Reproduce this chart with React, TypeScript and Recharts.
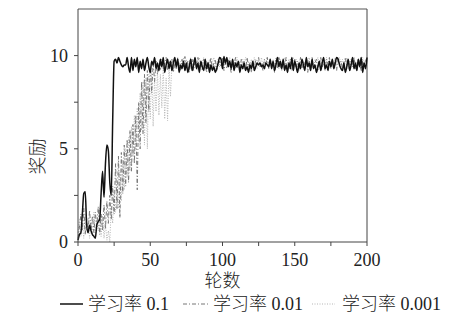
import React from 'react';
import { LineChart, Line, XAxis, YAxis, Legend, ReferenceLine, Label } from 'recharts';

const lr01: number[] = [
  0.1, 0.4, 0.5, 1.5, 2.6, 2.7, 0.9, 0.5, 0.9, 0.6,
  0.4, 0.3, 0.2, 0.9, 1.1, 1.2, 2.6, 3.8, 2.4, 4.2,
  5.2, 4.9, 3.2, 2.5, 6.5, 9.7, 9.8, 9.6, 9.9, 9.7,
  9.5, 9.4, 9.5, 9.5, 9.9, 9.4, 9.1, 9.9, 9.2, 9.8,
  9.4, 9.9, 9.1, 9.7, 9.3, 9.8, 9.2, 9.6, 9.9, 9.4,
  9.1, 9.7, 9.5, 9.9, 9.3, 9.6, 9.2, 9.8, 9.4, 9.9,
  9.1, 9.5, 9.8, 9.3, 9.7, 9.2, 9.6, 9.9, 9.4, 9.8,
  9.1, 9.5, 9.3, 9.7, 9.2, 9.6, 9.1, 9.4, 9.8, 9.2,
  9.5, 9.9, 9.3, 9.6, 9.1, 9.7, 9.4, 9.2, 9.8, 9.3,
  9.6, 9.1, 9.5, 9.2, 9.4, 9.1, 9.3, 9.6, 9.9, 9.8,
  9.3, 9.95, 9.6, 9.9, 9.4, 9.7, 9.3, 9.8, 9.2, 9.6,
  9.4, 9.7, 9.1, 9.5, 9.3, 9.6, 9.2, 9.4, 9.1, 9.5,
  9.3, 9.7, 9.2, 9.4, 9.6, 9.5, 9.6, 9.4, 9.5, 9.3,
  9.6, 9.5, 9.4, 9.8, 9.3, 9.7, 9.2, 9.5, 9.9, 9.4,
  9.7, 9.3, 9.8, 9.2, 9.5, 9.1, 9.6, 9.3, 9.9, 9.2,
  9.7, 9.4, 9.1, 9.6, 9.3, 9.8, 9.5, 9.2, 9.9, 9.4,
  9.6, 9.2, 9.8, 9.3, 9.5, 9.1, 9.4, 9.7, 9.2, 9.6,
  9.9, 9.3, 9.5, 9.2, 9.7, 9.4, 9.8, 9.3, 9.6, 9.9,
  9.8, 9.5, 9.3, 9.2, 9.6, 9.1, 9.4, 9.8, 9.2, 9.5,
  9.9, 9.3, 9.6, 9.2, 9.8, 9.4, 9.9, 9.1, 9.6, 9.3,
  9.9,
];

const lr001: number[] = [
  0.2, 0.8, 1.5, 0.6, 1.8, 0.4, 1.2, 0.5, 1.7, 0.6,
  1.4, 0.5, 1.6, 0.8, 1.9, 0.4, 1.5, 0.6, 2.0, 0.7,
  2.2, 1.0, 2.5, 1.2, 3.0, 1.5, 4.2, 1.8, 4.6, 1.3,
  4.8, 2.6, 5.2, 3.0, 5.5, 3.2, 6.0, 3.8, 6.3, 4.2,
  6.8, 2.8, 7.5, 5.0, 8.6, 5.8, 9.0, 6.4, 9.2, 7.0,
  9.4, 8.0, 9.6, 8.6, 9.7, 9.0, 9.5, 9.2, 9.8, 9.3,
  9.6, 9.9, 9.2, 9.7, 9.4, 9.8, 9.1, 9.6, 9.3, 9.9,
  9.5, 9.2, 9.8, 9.4, 9.95, 9.3, 9.7, 9.1, 9.6, 9.8,
  9.2, 9.7, 9.4, 9.9, 9.3, 9.6, 9.2, 9.8, 9.5, 9.1,
  9.7, 9.4, 9.9, 9.3, 9.6, 9.8, 9.2, 9.5, 9.7, 9.4,
  9.9, 9.2, 9.6, 9.3, 9.8, 9.5, 9.1, 9.7, 9.4, 9.9,
  9.3, 9.6, 9.2, 9.8, 9.5, 9.7, 9.2, 9.9, 9.4, 9.6,
  9.1, 9.7, 9.3, 9.8, 9.5, 9.9, 9.4, 9.6, 9.2, 9.8,
  9.5, 9.9, 9.3, 9.7, 9.4, 9.6, 9.1, 9.8, 9.3, 9.9,
  9.5, 9.2, 9.7, 9.4, 9.9, 9.3, 9.6, 9.8, 9.2, 9.5,
  9.8, 9.4, 9.7, 9.2, 9.9, 9.5, 9.3, 9.6, 9.8, 9.1,
  9.7, 9.4, 9.9, 9.3, 9.6, 9.8, 9.2, 9.5, 9.9, 9.4,
  9.6, 9.2, 9.8, 9.5, 9.9, 9.3, 9.7, 9.4, 9.8, 9.2,
  9.9, 9.5, 9.7, 9.3, 9.6, 9.9, 9.4, 9.8, 9.2, 9.7,
  9.4, 9.9, 9.3, 9.6, 9.8, 9.5, 9.2, 9.7, 9.4, 9.8,
  9.5,
];

const lr0001: number[] = [
  0.5, 1.2, 0.3, 1.0, 0.2, 1.5, 0.6, 1.3, 0.2, 1.1,
  0.4, 1.6, 0.3, 1.2, 0.6, 1.8, 0.3, 1.4, 0.2, 1.0,
  0.1, 0.6, 0.0, 1.8, 1.0, 2.6, 1.6, 3.2, 1.8, 3.8,
  2.2, 4.4, 2.8, 5.0, 3.5, 5.6, 3.8, 6.2, 4.6, 6.8,
  5.0, 7.2, 5.4, 8.0, 6.0, 8.6, 5.2, 8.8, 5.0, 9.0,
  6.6, 9.2, 6.2, 8.8, 7.0, 9.3, 6.8, 9.0, 7.2, 9.4,
  6.6, 8.8, 6.5, 9.4, 7.8, 9.6, 9.2, 9.8, 9.4, 9.9,
  9.3, 9.7, 9.5, 9.9, 9.2, 9.8, 9.4, 9.6, 9.9, 9.3,
  9.8, 9.5, 9.7, 9.2, 9.9, 9.4, 9.6, 9.9, 9.3, 9.7,
  9.5, 9.8, 9.4, 9.7, 9.9, 9.3, 9.6, 9.8, 9.4, 9.9,
  9.6, 9.3, 9.8, 9.5, 9.7, 9.9, 9.4, 9.6, 9.8, 9.3,
  9.9, 9.5, 9.7, 9.4, 9.8, 9.6, 9.9, 9.3, 9.7, 9.5,
  9.8, 9.4, 9.9, 9.6, 9.3, 9.7, 9.5, 9.9, 9.4, 9.8,
  9.6, 9.9, 9.3, 9.7, 9.5, 9.8, 9.4, 9.9, 9.6, 9.3,
  9.8, 9.5, 9.7, 9.9, 9.4, 9.6, 9.8, 9.3, 9.7, 9.9,
  9.5, 9.8, 9.4, 9.6, 9.9, 9.3, 9.7, 9.5, 9.8, 9.6,
  9.9, 9.4, 9.7, 9.3, 9.8, 9.6, 9.9, 9.5, 9.7, 9.4,
  9.8, 9.6, 9.9, 9.3, 9.7, 9.5, 9.8, 9.4, 9.9, 9.6,
  9.7, 9.9, 9.4, 9.8, 9.5, 9.6, 9.9, 9.3, 9.7, 9.8,
  9.5, 9.9, 9.6, 9.4, 9.8, 9.7, 9.3, 9.9, 9.5, 9.8,
  9.6,
];

const xTicks = [0, 25, 50, 75, 100, 125, 150, 175, 200];
const yTicks = [0, 2.5, 5, 7.5, 10];
const seriesNames = ['学习率 0.1', '学习率 0.01', '学习率 0.001'];

const data = lr01.map((v, i) => ({ x: i, a: v, b: lr001[i], c: lr0001[i] }));

const FONT = "'Liberation Serif', 'Noto Sans CJK SC', serif";
const TEXT = '#222';

const LegendContent = () => (
  <div style={{ position: 'relative', height: 32, width: 450, fontFamily: FONT, fontSize: 18, color: TEXT }}>
    <svg width={450} height={32} style={{ position: 'absolute', left: 0, top: 0 }}>
      <line x1={60} x2={83} y1={16} y2={16} stroke="#111" strokeWidth={1.5} />
      <line x1={183} x2={208} y1={16} y2={16} stroke="#777" strokeWidth={1} strokeDasharray="4 2 1 2" />
      <line x1={312} x2={335} y1={16} y2={16} stroke="#b5b5b5" strokeWidth={1} strokeDasharray="1 1.5" />
      <text x={88} y={22} fontFamily={FONT} fontSize={18} fontWeight={300} fill={TEXT}>{seriesNames[0]}</text>
      <text x={213} y={22} fontFamily={FONT} fontSize={18} fontWeight={300} fill={TEXT}>{seriesNames[1]}</text>
      <text x={342} y={22} fontFamily={FONT} fontSize={18} fontWeight={300} fill={TEXT}>{seriesNames[2]}</text>
    </svg>
  </div>
);

const YLabel = (props: any) => {
  const vb = props.viewBox || { x: 0, y: 0, width: 78, height: 233 };
  const cx = vb.x + 38;
  const cy = vb.y + vb.height / 2 + 31;
  return (
    <text
      x={cx}
      y={cy}
      transform={`rotate(-90, ${cx}, ${cy})`}
      textAnchor="middle"
      dominantBaseline="central"
      fontFamily={FONT}
      fontSize={18}
      fontWeight={300}
      fill={TEXT}
    >
      奖励
    </text>
  );
};

export default function App() {
  return (
    <div style={{ position: 'absolute', left: 0, top: 0 }}>
      <LineChart width={450} height={320} data={data} margin={{ top: 9, right: 83, bottom: 0, left: 0 }}>
        <XAxis
          dataKey="x"
          type="number"
          domain={[0, 200]}
          ticks={xTicks}
          tickFormatter={(v: number) => (v % 50 === 0 ? String(v) : '')}
          tickSize={4}
          tickMargin={7}
          height={46}
          stroke="#444"
          tick={{ fill: TEXT, fontSize: 18, fontFamily: FONT }}
          interval={0}
        >
          <Label value="轮数" position="insideBottom" offset={1} fill={TEXT} fontSize={18} fontWeight={300} fontFamily={FONT} />
        </XAxis>
        <YAxis
          type="number"
          domain={[0, 12.5]}
          ticks={yTicks}
          tickFormatter={(v: number) => (v % 5 === 0 ? String(v) : '')}
          tickSize={4}
          tickMargin={6}
          width={78}
          stroke="#444"
          tick={{ fill: TEXT, fontSize: 18, fontFamily: FONT }}
          interval={0}
          allowDataOverflow
        >
          <Label content={<YLabel />} />
        </YAxis>
        <ReferenceLine y={12.5} stroke="#555" strokeWidth={1} ifOverflow="visible" />
        <ReferenceLine x={200} stroke="#444" strokeWidth={1} ifOverflow="visible" />
        <Legend verticalAlign="bottom" content={<LegendContent />} wrapperStyle={{ left: 0, width: 450 }} />
        <Line type="linear" dataKey="c" stroke="#b5b5b5" strokeWidth={1} strokeDasharray="1 1.5" dot={false} isAnimationActive={false} />
        <Line type="linear" dataKey="b" stroke="#777" strokeWidth={1} strokeDasharray="4 2 1 2" dot={false} isAnimationActive={false} />
        <Line type="monotone" dataKey="a" stroke="#111" strokeWidth={1.5} dot={false} isAnimationActive={false} />
      </LineChart>
    </div>
  );
}
